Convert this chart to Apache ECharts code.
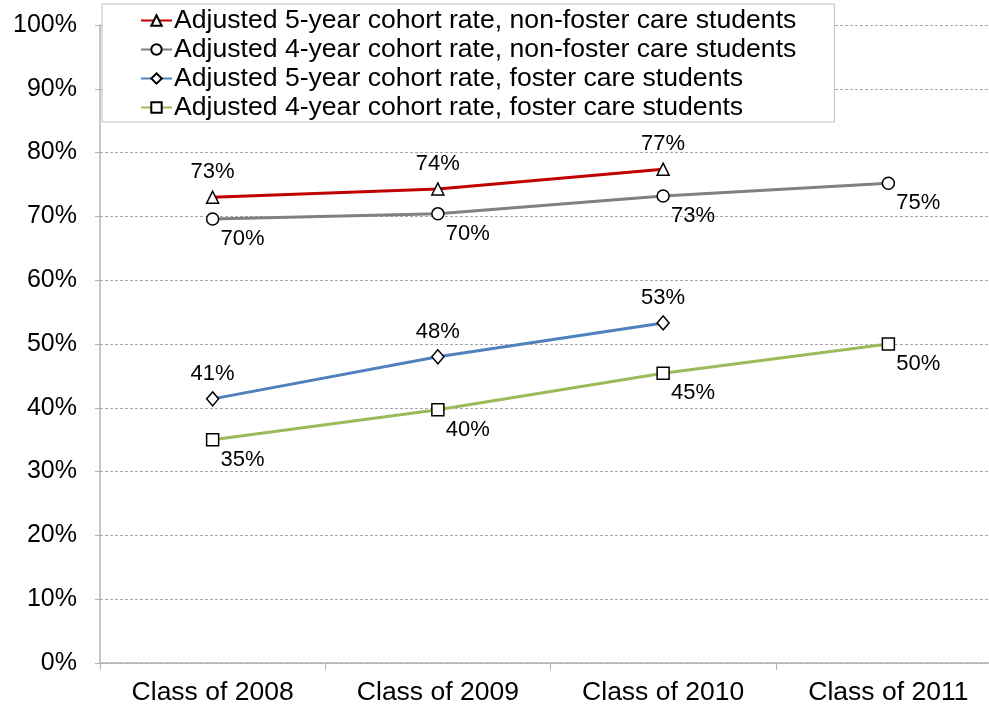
<!DOCTYPE html>
<html>
<head>
<meta charset="utf-8">
<script src="https://cdn.jsdelivr.net/npm/echarts@6/dist/echarts.min.js"></script>
<style>
  html, body { margin: 0; padding: 0; background: #fff; overflow: hidden; }
  /* the plot runs a little past the right edge of the window */
  #chart { width: 1001px; height: 709px; }
</style>
</head>
<body>
<div id="chart"></div>
<script>
// Graduation cohort rates by class year
const categories = ['Class of 2008', 'Class of 2009', 'Class of 2010', 'Class of 2011'];
const seriesNames = [
  'Adjusted 5-year cohort rate, non-foster care students',
  'Adjusted 4-year cohort rate, non-foster care students',
  'Adjusted 5-year cohort rate, foster care students',
  'Adjusted 4-year cohort rate, foster care students'
];
const fiveYearNonFoster = [73.0, 74.3, 77.4, null];
const fourYearNonFoster = [69.6, 70.4, 73.2, 75.2];
const fiveYearFoster = [41.4, 48.0, 53.3, null];
const fourYearFoster = [35.0, 39.7, 45.4, 50.0];
const yTicks = [0, 10, 20, 30, 40, 50, 60, 70, 80, 90, 100];

const FONT = '"Liberation Sans", Arial, sans-serif';
const labelAbove = { show: true, position: 'inside', offset: [0, -25] };
const labelBelowRight = { show: true, position: 'inside', offset: [30, 20] };

function makeSeries(name, data, color, symbol, label) {
  return {
    name: name,
    type: 'line',
    data: data,
    symbol: symbol,
    symbolSize: symbol === 'diamond' ? [12, 14] : 12,
    showAllSymbol: true,
    lineStyle: { color: color, width: 3 },
    itemStyle: { color: '#ffffff', borderColor: '#000000', borderWidth: 1.5 },
    label: Object.assign({
      color: '#000000',
      fontSize: 22,
      fontFamily: FONT,
      formatter: p => Math.round(p.value) + '%'
    }, label),
    emphasis: { disabled: true },
    z: 3
  };
}

const chart = echarts.init(document.getElementById('chart'), null, { renderer: 'canvas' });
chart.setOption({
  backgroundColor: '#ffffff',
  animation: false,
  textStyle: { fontFamily: FONT },
  grid: { left: 100, right: 0, top: 25, bottom: 46, containLabel: false },
  legend: {
    orient: 'vertical',
    left: 102,
    top: 4,
    padding: [3, 38, 1, 38],
    itemGap: 2,
    itemWidth: 31,
    itemHeight: 13,
    backgroundColor: '#ffffff',
    borderColor: '#BFBFBF',
    borderWidth: 1,
    textStyle: { fontSize: 26.6, color: '#000000', fontFamily: FONT, padding: [0, 0, 0, -3] },
    data: seriesNames,
    z: 10
  },
  xAxis: {
    type: 'category',
    data: categories,
    boundaryGap: true,
    axisLine: { lineStyle: { color: '#B3B3B3', width: 1.5 } },
    axisTick: { show: true, interval: 0, length: 7, lineStyle: { color: '#B3B3B3', width: 1 } },
    axisLabel: { color: '#000000', fontSize: 26.5, fontFamily: FONT, margin: 16, interval: 0 },
    splitLine: { show: false }
  },
  yAxis: {
    type: 'value',
    min: yTicks[0],
    max: yTicks[yTicks.length - 1],
    interval: yTicks[1] - yTicks[0],
    axisLine: { show: true, lineStyle: { color: '#B3B3B3', width: 1.5 } },
    axisTick: { show: true, length: 5, lineStyle: { color: '#B3B3B3', width: 1 } },
    axisLabel: { color: '#000000', fontSize: 25, fontFamily: FONT, margin: 23, formatter: '{value}%' },
    splitLine: { show: true, lineStyle: { color: '#A6A6A6', width: 1, type: [3, 2] } }
  },
  series: [
    makeSeries(seriesNames[0], fiveYearNonFoster, '#C00000', 'triangle', labelAbove),
    makeSeries(seriesNames[1], fourYearNonFoster, '#808080', 'circle', labelBelowRight),
    makeSeries(seriesNames[2], fiveYearFoster, '#4F81BD', 'diamond', labelAbove),
    makeSeries(seriesNames[3], fourYearFoster, '#9BBB59', 'rect', labelBelowRight)
  ]
});
</script>
</body>
</html>
